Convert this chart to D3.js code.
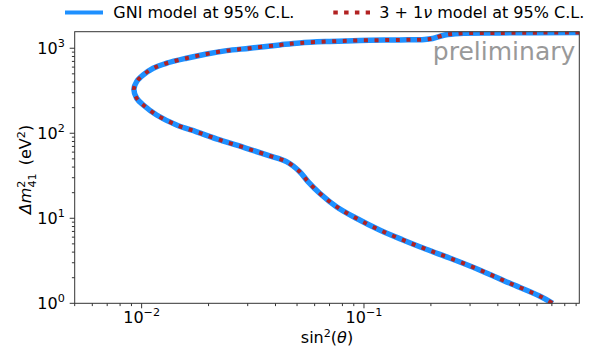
<!DOCTYPE html>
<html>
<head>
<meta charset="utf-8">
<script src="https://cdn.jsdelivr.net/npm/d3@7"></script>
<style>
  body { margin: 0; background: #fff; }
  text { font-family: "DejaVu Sans", sans-serif; fill: #000; }
</style>
</head>
<body>
<script>
 ///////////////////////////////////////////////////////
 // data, contour traced from top right, round the nose, down to the bottom

 var sin2 = [0.93, 0.407, 0.269, 0.231, 0.2035, 0.1874, 0.1447, 0.0956, 0.0702, 0.0514,
   0.0418, 0.0306, 0.0241, 0.0196, 0.0159, 0.01295, 0.01127, 0.01017, 0.0095, 0.00923,
   0.0095, 0.01017, 0.01168, 0.01436, 0.01767, 0.02247, 0.0296, 0.0377, 0.0448, 0.0514,
   0.056, 0.0632, 0.0752, 0.0924, 0.1176, 0.1497, 0.1906, 0.2427, 0.331, 0.451, 0.616, 0.706];
 var dm2 = [1535, 1514, 1494, 1433, 1304, 1269, 1252, 1236, 1202, 1154,
   1094, 1000, 937, 857, 763, 666, 582, 485, 405, 329,
   258, 215, 164, 125, 104, 83.4, 66.6, 54.1, 46.3, 35.3,
   27.0, 19.7, 13.7, 10, 7.28, 5.56, 4.32, 3.41, 2.47, 1.73, 1.22, 1.0];
 var xTicks = [-2, -1];          // exponents of major ticks
 var yTicks = [0, 1, 2, 3];
 var legendLabels = ["GNI model at 95% C.L.", "model at 95% C.L."];

 ///////////////////////////////////////////////////////
 // margins

 var w = 595, h = 348;
 var margin = { top: 31.7, bottom: 44.7, left: 74.7, right: 15.7 };
 var width = w - margin.left - margin.right,
   height = h - margin.top - margin.bottom;
 var fs = 16, fsSmall = 11.2;

 var svg = d3.select("body").append("svg")
   .attr("width", w)
   .attr("height", h);

 ///////////////////////////////////////////////////////
 // scales

 var x = d3.scaleLog().domain([0.005, 0.93]).range([0, width]);
 var y = d3.scaleLog().domain([1, 1565]).range([height, 0]);

 var chart = svg.append("g")
   .attr("transform", "translate(" + margin.left + "," + margin.top + ")");

 // minor + major ticks for log axes
 function logTicks(dom) {
   var out = [];
   var lo = Math.floor(Math.log10(dom[0])), hi = Math.ceil(Math.log10(dom[1]));
   for (var e = lo; e <= hi; e++) {
     for (var m = 1; m < 10; m++) {
       var v = m * Math.pow(10, e);
       if (v >= dom[0] * 0.9999 && v <= dom[1] * 1.0001) out.push({ v: v, major: m === 1 });
     }
   }
   return out;
 }

 ///////////////////////////////////////////////////////
 // curve

 var pts = sin2.map(function(d, i) { return [x(d), y(dm2[i])]; });
 var line = d3.line().curve(d3.curveCatmullRom.alpha(0.5));

 svg.append("clipPath").attr("id", "clip")
   .append("rect").attr("width", width).attr("height", height);

 var curves = chart.append("g").attr("clip-path", "url(#clip)");
 curves.append("path")
   .attr("d", line(pts))
   .attr("fill", "none")
   .attr("stroke", "#1e90ff")
   .attr("stroke-width", 5.5)
   .attr("stroke-linejoin", "round");
 curves.append("path")
   .attr("d", line(pts))
   .attr("fill", "none")
   .attr("stroke", "#b22222")
   .attr("stroke-width", 4)
   .attr("stroke-dasharray", "4,6.6");

 ///////////////////////////////////////////////////////
 // axes (drawn by hand, matplotlib look)

 var spine = "#333";
 chart.append("rect")
   .attr("width", width).attr("height", height)
   .attr("fill", "none").attr("stroke", spine).attr("stroke-width", 1);

 chart.selectAll(".xt").data(logTicks(x.domain())).enter().append("line")
   .attr("x1", function(d) { return x(d.v); })
   .attr("x2", function(d) { return x(d.v); })
   .attr("y1", height)
   .attr("y2", function(d) { return height + (d.major ? 5 : 2.8); })
   .attr("stroke", spine);

 chart.selectAll(".yt").data(logTicks(y.domain())).enter().append("line")
   .attr("y1", function(d) { return y(d.v); })
   .attr("y2", function(d) { return y(d.v); })
   .attr("x1", 0)
   .attr("x2", function(d) { return d.major ? -5 : -2.8; })
   .attr("stroke", spine);

 function powLabel(sel, e) {
   sel.append("tspan").text("10");
   sel.append("tspan").attr("dy", -7.5).attr("font-size", fsSmall)
     .text(e < 0 ? "\u2212" + (-e) : "" + e);
 }

 xTicks.forEach(function(e) {
   var t = chart.append("text")
     .attr("x", x(Math.pow(10, e)))
     .attr("y", height + 20)
     .attr("text-anchor", "middle")
     .attr("font-size", fs);
   powLabel(t, e);
 });

 yTicks.forEach(function(e) {
   var t = chart.append("text")
     .attr("x", -9.9)
     .attr("y", y(Math.pow(10, e)) + 5.8)
     .attr("text-anchor", "end")
     .attr("font-size", fs);
   powLabel(t, e);
 });

 // axis titles
 var xl = chart.append("text")
   .attr("x", width / 2)
   .attr("y", height + 40)
   .attr("text-anchor", "middle")
   .attr("font-size", fs);
 xl.append("tspan").text("sin");
 xl.append("tspan").attr("dy", -6.5).attr("font-size", fsSmall).text("2");
 xl.append("tspan").attr("dy", 6.5).text("(");
 xl.append("tspan").attr("font-style", "italic").text("\u03b8");
 xl.append("tspan").text(")");

 var yl = svg.append("text")
   .attr("transform", "translate(31," + (margin.top + height / 2 + 2) + ") rotate(-90)")
   .attr("text-anchor", "middle")
   .attr("font-size", fs);
 yl.append("tspan").attr("font-style", "italic").text("\u0394m");
 yl.append("tspan").attr("dy", -6.5).attr("font-size", fsSmall).text("2");
 yl.append("tspan").attr("dx", -7).attr("dy", 11.5).attr("font-size", fsSmall).text("41");
 yl.append("tspan").attr("dy", -5).text("\u2002(eV");
 yl.append("tspan").attr("dy", -6.5).attr("font-size", fsSmall).text("2");
 yl.append("tspan").attr("dy", 6.5).text(")");

 // watermark
 chart.append("text")
   .attr("x", width - 4)
   .attr("y", 28.5)
   .attr("text-anchor", "end")
   .attr("font-size", 25)
   .style("fill", "#999")
   .text("preliminary");

 ///////////////////////////////////////////////////////
 // legend

 var leg = svg.append("g");
 leg.append("line").attr("x1", 65).attr("x2", 103).attr("y1", 12.5).attr("y2", 12.5)
   .attr("stroke", "#1e90ff").attr("stroke-width", 4);
 leg.append("text").attr("x", 113.3).attr("y", 18.3).attr("font-size", fs).text(legendLabels[0]);
 leg.append("line").attr("x1", 333.3).attr("x2", 370).attr("y1", 12.5).attr("y2", 12.5)
   .attr("stroke", "#b22222").attr("stroke-width", 4).attr("stroke-dasharray", "4.5,6.3");
 var t2 = leg.append("text").attr("x", 379.3).attr("y", 18.3).attr("font-size", fs);
 t2.append("tspan").text("3 + 1");
 t2.append("tspan").attr("font-style", "italic").text("\u03bd");
 t2.append("tspan").text(" " + legendLabels[1]);
</script>
</body>
</html>
